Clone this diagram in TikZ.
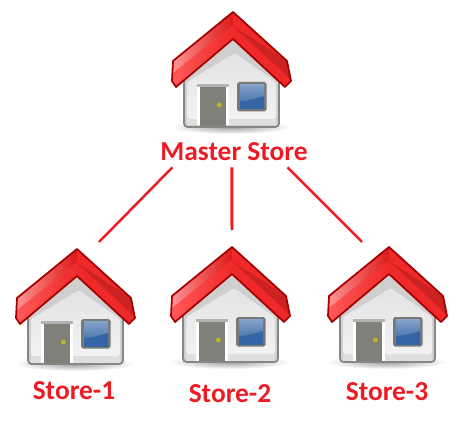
\documentclass[tikz,border=0pt]{standalone}
\usepackage{fontspec}
\setmainfont{Carlito}
\usepackage{xcolor}
\usetikzlibrary{positioning, calc}
\definecolor{labelred}{HTML}{ED1C24}
\definecolor{roofdark}{HTML}{A40000}
\tikzset{
    storelabel/.style={font=\fontsize{15.6pt}{17pt}\selectfont\bfseries, text=labelred, inner sep=0pt},
    link/.style={draw=labelred, line width=1.4pt},
    house/.pic={
        % Shadow
        \shade[inner color=gray!75, outer color=white] (-2,115) ellipse (60 and 7);
        % Walls
        \draw[draw=gray!95, line width=1pt, fill=gray!38, rounded corners=2pt]
            (-49,60) -- (0,24) -- (46,60) -- (46,115) -- (-49,115) -- cycle;
        \shade[top color=gray!22, bottom color=gray!10, rounded corners=1pt]
            (-46,70) -- (2,41) -- (43,70) -- (43,107) -- (-46,107) -- cycle;
        \fill[gray!25] (-46,107) rectangle (43,113.5);
        % Door
        \fill[white] (-36,72) rectangle (-4,113.5);
        \fill[gray!60] (-36,72) rectangle (-4,75);
        \fill[doorgray] (-33.5,75) rectangle (-7,114);
        \fill[yellow!70!black, draw=yellow!45!black, line width=0.2pt] (-13.7,93) circle (2.8);
        % Window
        \fill[gray!95!black, rounded corners=1pt] (4,70) rectangle (33.5,99.5);
        \shade[top color=glassblue!60!white, bottom color=glassblue] (7,72.5) rectangle (31,97);
        \fill[glassblue] (7,89) .. controls (16,89) and (24,86) .. (31,84) -- (31,97) -- (7,97) -- cycle;
        % Roof
        \shade[left color=red!42!white, right color=red!85!black!90!white]
            (0,0) -- (-60,49) -- (-61,69) -- (-57,75) -- (0,27) -- cycle;
        \shade[left color=red!65!white, right color=roofred]
            (0,13) -- (-60,61) -- (-61,69) -- (-57,75) -- (0,27) -- cycle;
        \fill[roofred] (0,0) -- (54,49) -- (58,69) -- (52,75) -- (0,27) -- cycle;
        \fill[roofshade] (0,14) -- (54,49) -- (58,69) -- (52,62) -- cycle;
        \draw[roofdark, line width=1pt, line join=round]
            (0,0) -- (-60,49) -- (-61,69) -- (-57,75) -- (0,27)
            -- (52,75) -- (58,69) -- (54,49) -- cycle;
    }
}
\definecolor{doorgray}{HTML}{7F807A}
\definecolor{glassblue}{HTML}{3465A4}
\definecolor{roofred}{HTML}{EF2929}
\definecolor{roofshade}{HTML}{CC2222}

\begin{document}
\begin{tikzpicture}[x=0.02cm,y=-0.02cm]
    \useasboundingbox (0,0) rectangle (466,422);

    % Houses
    \pic at (233,12) {house};
    \foreach \x/\y in {77/249, 232/247, 389/247} {
        \pic at (\x,\y) {house};
    }

    % Labels
    \node[storelabel, minimum width=146*0.02cm, minimum height=30*0.02cm] (master) at (234,152) {Master Store};
    \node[storelabel] (store1) at (74,391) {Store-1};
    \node[storelabel] (store2) at (230,394) {Store-2};
    \node[storelabel] (store3) at (387,392) {Store-3};

    % Links
    \coordinate (roof1) at (99,242);
    \coordinate (roof2) at (232,230);
    \coordinate (roof3) at (362,242);
    \draw[link] (master.194) -- (roof1);
    \draw[link, line width=1.7pt] (master.262) -- (roof2);
    \draw[link] (master.344) -- (roof3);
\end{tikzpicture}
\end{document}
